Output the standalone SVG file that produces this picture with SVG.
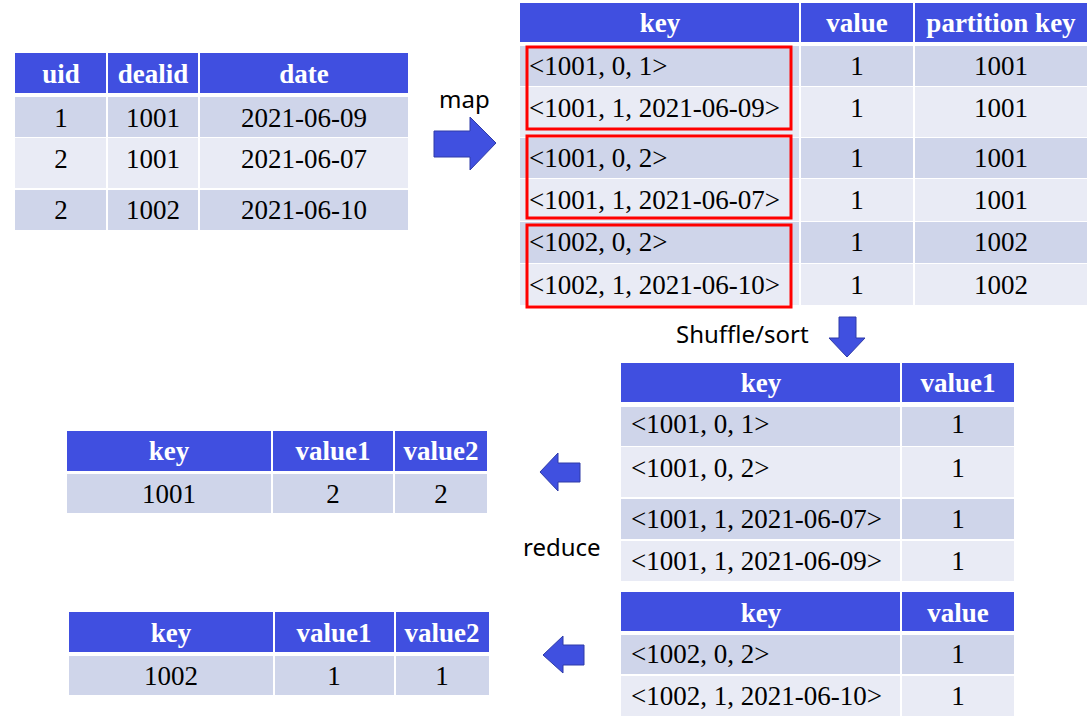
<svg xmlns="http://www.w3.org/2000/svg" width="1092" height="720" viewBox="0 0 1092 720">
<style>
.hd{fill:#404FE0}
.dk{fill:#CFD5EA}
.lt{fill:#E9EBF5}
.sep{stroke:#FFFFFF;stroke-width:2}
.ht{font-family:"Liberation Serif","Times New Roman",serif;font-size:27px;font-weight:bold;fill:#FFFFFF;text-anchor:middle}
.dt{font-family:"Liberation Serif","Times New Roman",serif;font-size:27px;fill:#000000}
.c{text-anchor:middle}
.lbl{font-family:"Noto Sans","Open Sans",sans-serif;font-size:24px;fill:#000000}
.arr{fill:#4050E0;stroke:#2E3BA8;stroke-width:1}
.red{fill:none;stroke:#FF0000;stroke-width:3}
</style>
<rect width="1092" height="720" fill="#FFFFFF"/>

<g id="input-table">
<rect class="hd" x="15" y="53" width="393" height="40"/>
<rect class="dk" x="15" y="97" width="393" height="40"/>
<rect class="lt" x="15" y="138" width="393" height="50"/>
<rect class="dk" x="15" y="190" width="393" height="40"/>
<line class="sep" x1="107" y1="53" x2="107" y2="230"/>
<line class="sep" x1="199" y1="53" x2="199" y2="230"/>
<text class="ht" x="61" y="83">uid</text>
<text class="ht" x="153" y="83">dealid</text>
<text class="ht" x="304" y="83">date</text>
<text class="dt c" x="61" y="127">1</text>
<text class="dt c" x="153" y="127">1001</text>
<text class="dt c" x="304" y="127">2021-06-09</text>
<text class="dt c" x="61" y="168">2</text>
<text class="dt c" x="153" y="168">1001</text>
<text class="dt c" x="304" y="168">2021-06-07</text>
<text class="dt c" x="61" y="219">2</text>
<text class="dt c" x="153" y="219">1002</text>
<text class="dt c" x="304" y="219">2021-06-10</text>
</g>

<g id="map-table">
<rect class="hd" x="520" y="3" width="567" height="39"/>
<rect class="dk" x="520" y="46" width="567" height="40"/>
<rect class="lt" x="520" y="87" width="567" height="50"/>
<rect class="dk" x="520" y="138" width="567" height="40"/>
<rect class="lt" x="520" y="179" width="567" height="42"/>
<rect class="dk" x="520" y="222" width="567" height="41"/>
<rect class="lt" x="520" y="264" width="567" height="41"/>
<line class="sep" x1="800" y1="3" x2="800" y2="305"/>
<line class="sep" x1="914" y1="3" x2="914" y2="305"/>
<text class="ht" x="660" y="32">key</text>
<text class="ht" x="857" y="32">value</text>
<text class="ht" x="1001" y="32">partition key</text>
<text class="dt" x="529" y="75">&lt;1001, 0, 1&gt;</text>
<text class="dt" x="529" y="117">&lt;1001, 1, 2021-06-09&gt;</text>
<text class="dt" x="529" y="167">&lt;1001, 0, 2&gt;</text>
<text class="dt" x="529" y="209">&lt;1001, 1, 2021-06-07&gt;</text>
<text class="dt" x="529" y="251">&lt;1002, 0, 2&gt;</text>
<text class="dt" x="529" y="294">&lt;1002, 1, 2021-06-10&gt;</text>
<text class="dt c" x="857" y="75">1</text>
<text class="dt c" x="857" y="117">1</text>
<text class="dt c" x="857" y="167">1</text>
<text class="dt c" x="857" y="209">1</text>
<text class="dt c" x="857" y="251">1</text>
<text class="dt c" x="857" y="294">1</text>
<text class="dt c" x="1001" y="75">1001</text>
<text class="dt c" x="1001" y="117">1001</text>
<text class="dt c" x="1001" y="167">1001</text>
<text class="dt c" x="1001" y="209">1001</text>
<text class="dt c" x="1001" y="251">1002</text>
<text class="dt c" x="1001" y="294">1002</text>
<rect class="red" x="527" y="47" width="264" height="82"/>
<rect class="red" x="527" y="136" width="264" height="82"/>
<rect class="red" x="527" y="225" width="264" height="82"/>
</g>

<g id="shuffle-table-1001">
<rect class="hd" x="621" y="363" width="393" height="39"/>
<rect class="dk" x="621" y="407" width="393" height="39"/>
<rect class="lt" x="621" y="447" width="393" height="50"/>
<rect class="dk" x="621" y="499" width="393" height="40"/>
<rect class="lt" x="621" y="541" width="393" height="40"/>
<line class="sep" x1="901" y1="363" x2="901" y2="581"/>
<text class="ht" x="761" y="392">key</text>
<text class="ht" x="958" y="392">value1</text>
<text class="dt" x="631" y="433">&lt;1001, 0, 1&gt;</text>
<text class="dt" x="631" y="477">&lt;1001, 0, 2&gt;</text>
<text class="dt" x="631" y="528">&lt;1001, 1, 2021-06-07&gt;</text>
<text class="dt" x="631" y="570">&lt;1001, 1, 2021-06-09&gt;</text>
<text class="dt c" x="958" y="433">1</text>
<text class="dt c" x="958" y="477">1</text>
<text class="dt c" x="958" y="528">1</text>
<text class="dt c" x="958" y="570">1</text>
</g>

<g id="shuffle-table-1002">
<rect class="hd" x="621" y="592" width="393" height="39"/>
<rect class="dk" x="621" y="635" width="393" height="39"/>
<rect class="lt" x="621" y="676" width="393" height="40"/>
<line class="sep" x1="901" y1="592" x2="901" y2="716"/>
<text class="ht" x="761" y="622">key</text>
<text class="ht" x="958" y="622">value</text>
<text class="dt" x="631" y="663">&lt;1002, 0, 2&gt;</text>
<text class="dt" x="631" y="705">&lt;1002, 1, 2021-06-10&gt;</text>
<text class="dt c" x="958" y="663">1</text>
<text class="dt c" x="958" y="705">1</text>
</g>

<g id="reduce-table-1001">
<rect class="hd" x="67" y="431" width="420" height="40"/>
<rect class="dk" x="67" y="474" width="420" height="39"/>
<line class="sep" x1="272" y1="431" x2="272" y2="513"/>
<line class="sep" x1="394" y1="431" x2="394" y2="513"/>
<text class="ht" x="169" y="460">key</text>
<text class="ht" x="333" y="460">value1</text>
<text class="ht" x="441" y="460">value2</text>
<text class="dt c" x="169" y="503">1001</text>
<text class="dt c" x="333" y="503">2</text>
<text class="dt c" x="441" y="503">2</text>
</g>

<g id="reduce-table-1002">
<rect class="hd" x="69" y="612" width="420" height="40"/>
<rect class="dk" x="69" y="656" width="420" height="39"/>
<line class="sep" x1="274" y1="612" x2="274" y2="695"/>
<line class="sep" x1="395" y1="612" x2="395" y2="695"/>
<text class="ht" x="171" y="642">key</text>
<text class="ht" x="334" y="642">value1</text>
<text class="ht" x="442" y="642">value2</text>
<text class="dt c" x="171" y="685">1002</text>
<text class="dt c" x="334" y="685">1</text>
<text class="dt c" x="442" y="685">1</text>
</g>

<g id="connectors">
<polygon class="arr" points="434,131 470,131 470,117 496,143 470,170 470,157 434,157"/>
<text class="lbl" x="439" y="108">map</text>
<polygon class="arr" points="839,317 856,317 856,338 865,338 847,357 829,338 839,338"/>
<text class="lbl" x="676" y="343">Shuffle/sort</text>
<polygon class="arr" points="540,472 558,453 558,463 580,463 580,482 558,482 558,491"/>
<polygon class="arr" points="543,655 563,636 563,645 584,645 584,665 563,665 563,673"/>
<text class="lbl" x="523" y="556">reduce</text>
</g>
</svg>
